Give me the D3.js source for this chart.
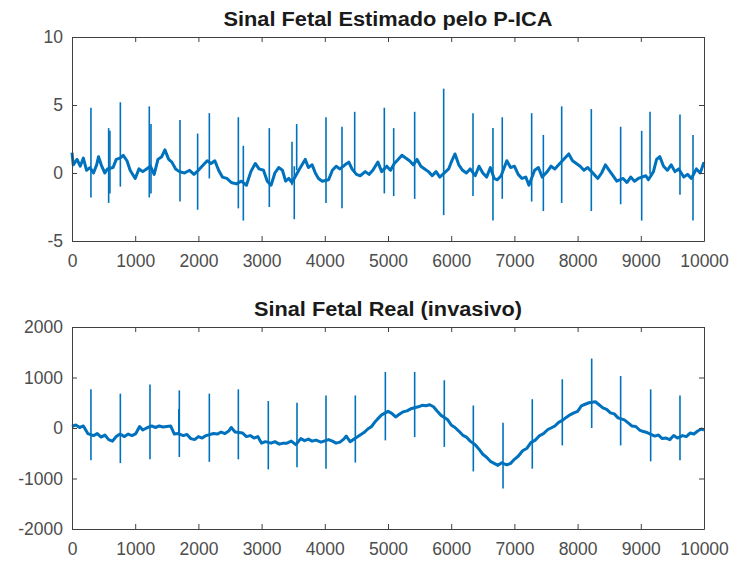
<!DOCTYPE html>
<html>
<head>
<meta charset="utf-8">
<script src="https://cdn.jsdelivr.net/npm/d3@7"></script>
<style>
  body { margin: 0; background: #fff; }
  svg { font-family: "Liberation Sans", Arial, sans-serif; }
</style>
</head>
<body>
<svg id="chart" width="733" height="562"></svg>
<script>
// top: estimated fetal signal (P-ICA) -- baseline
var topBaseX = [0, 20, 80, 130, 180, 230, 285, 340, 390, 420, 470, 520, 560, 650, 700, 760, 810, 870, 920, 1000,
  1060, 1120, 1180, 1240, 1300, 1360, 1420, 1470, 1530, 1580, 1640, 1700, 1780, 1860, 1930, 2000, 2080, 2140, 2200,
  2260, 2320, 2380, 2450, 2520, 2600, 2680, 2760, 2830, 2900, 2960, 3030, 3090, 3150, 3210, 3270, 3330,
  3380, 3430, 3480, 3600, 3690, 3740, 3800, 3850, 3900, 3960, 4060, 4120, 4180, 4240, 4320, 4380, 4430, 4500,
  4560, 4640, 4700, 4760, 4840, 4900, 4980, 5040, 5100, 5160, 5220, 5280, 5340, 5400, 5460, 5520, 5580, 5640,
  5700, 5760, 5820, 5960, 6010, 6060, 6120, 6180, 6240, 6300, 6380, 6440, 6500, 6560, 6620, 6680,
  6730, 6790, 6880, 6940, 7000, 7060, 7120, 7180, 7230, 7320, 7380, 7440, 7520, 7580, 7640, 7700, 7800, 7860,
  7920, 7980, 8040, 8100, 8160, 8260, 8320, 8380, 8440, 8500, 8560, 8620, 8720, 8780, 8840, 8900, 8960, 9080,
  9120, 9200, 9250, 9300, 9360, 9420, 9480, 9540, 9600, 9680, 9740, 9800, 9880, 9940, 10000];
var topBaseY = [1.5, 0.6, 1.0, 0.5, 1.1, 0.2, 0.4, 0.0, 0.6, 1.2, 0.5, 0.0, 0.3, 0.4, 1.0, 1.1, 1.3, 0.9, 0.2, -0.4,
  0.3, 0.1, 0.3, 0.5, -0.1, 1.0, 1.2, 1.7, 1.0, 0.8, 0.3, 0.1, 0.0, 0.2, -0.1, 0.2, 0.6, 0.9, 0.7,
  0.9, 0.2, -0.3, -0.4, -0.7, -0.8, -0.6, -0.9, 0.1, 0.7, 0.3, 0.2, -0.6, -0.9, 0.0, 0.4, 0.2,
  -0.6, -0.4, -0.7, 0.3, 1.0, 0.4, 0.6, 0.0, -0.4, -0.6, -0.5, 0.2, 0.5, 0.3, 0.6, 0.8, 0.3, -0.1,
  -0.2, 0.1, -0.1, 0.2, 0.8, 0.1, 0.5, 0.2, 0.7, 1.0, 1.3, 1.1, 0.9, 0.6, 1.0, 0.5, 0.3, 0.1,
  -0.2, 0.1, -0.3, 0.3, 0.9, 1.4, 0.6, 0.2, 0.0, 0.3, -0.2, 0.5, 0.0, -0.3, 0.4, -0.4,
  -0.5, -0.2, 0.9, 0.4, 0.5, -0.1, -0.4, -0.3, -0.9, 0.2, 0.4, -0.3, 0.1, 0.5, 0.3, 0.6, 1.1, 1.4,
  0.9, 0.7, 0.5, 0.2, 0.4, -0.1, -0.4, 0.0, 0.6, 0.2, -0.2, -0.6, -0.4, -0.7, -0.3, -0.6, -0.4, -0.2,
  -0.5, 0.1, 1.0, 1.2, 0.5, 0.2, 0.6, 0.1, 0.3, -0.3, -0.1, -0.4, 0.3, 0.0, 0.8];
var topSpikeX = [300, 580, 600, 765, 1223, 1250, 1709, 1988, 2173, 2632, 2711, 3122, 3481, 3517, 3555, 4019, 4272, 4473, 4942,
  5090, 5422, 5881, 6345, 6661, 6808, 7273, 7458, 7748, 8217, 8681, 9014, 9146, 9620, 9826];
var topSpikeHi = [4.8, 3.3, 3.1, 5.2, 4.9, 3.6, 3.9, 2.9, 4.4, 4.1, 2.0, 3.3, 2.3, 0.5, 3.6, 4.1, 3.4, 4.5, 4.8,
  3.3, 4.5, 6.2, 4.4, 3.3, 4.1, 4.4, 2.8, 4.9, 4.7, 3.4, 3.1, 4.5, 4.3, 2.8];
var topSpikeLo = [-1.8, -2.2, -1.5, -1.0, -1.8, -1.5, -2.1, -2.7, -0.4, -2.6, -3.5, -2.5, -0.9, -3.4, 0.2, -2.2, -2.6, 0, -1.5,
  -1.7, -1.9, -3.1, -1.7, -3.5, -1.9, -2.1, -2.8, -2.2, -2.8, -2.3, -3.5, -0.1, -1.6, -3.5];

// bottom: real fetal signal (invasive)
var botBaseX = [0, 60, 120, 180, 250, 340, 400, 460, 520, 580, 640, 700, 760, 830, 890, 950, 1010, 1070, 1120, 1180,
  1260, 1320, 1380, 1440, 1500, 1560, 1620, 1680, 1760, 1820, 1880, 1940, 2000, 2060, 2120, 2240, 2300, 2360,
  2420, 2480, 2520, 2580, 2700, 2760, 2820, 2880, 2940, 3000, 3060, 3150, 3210, 3280, 3340,
  3400, 3470, 3540, 3620, 3680, 3740, 3800, 3860, 3940, 4060, 4120, 4180, 4240, 4300, 4340, 4400, 4440, 4560,
  4620, 4680, 4740, 4800, 4860, 4900, 5000, 5060, 5120, 5180, 5240, 5300, 5360, 5480, 5540, 5600, 5660, 5720,
  5780, 5840, 5940, 6000, 6060, 6120, 6180, 6240, 6300, 6380, 6440, 6500, 6560, 6620, 6680,
  6740, 6800, 6880, 6940, 7000, 7060, 7130, 7200, 7260, 7330, 7400, 7460, 7530, 7580, 7640, 7700, 7760, 7820,
  7880, 7940, 8000, 8060, 8120, 8180, 8280, 8340, 8400, 8460, 8520, 8580, 8640, 8740, 8800, 8860, 8920, 8980,
  9040, 9100, 9220, 9280, 9340, 9400, 9460, 9520, 9580, 9660, 9720, 9780, 9840, 9900, 9960, 10000];
var botBaseY = [30, 60, 10, 40, -110, -150, -110, -180, -140, -230, -260, -170, -120, -170, -120, -150, -110, 30, -40, 0,
  40, 10, 40, 20, 30, 40, -120, -110, -150, -130, -210, -230, -170, -200, -150, -110, -120, -80,
  -110, -60, 10, -80, -100, -170, -150, -200, -170, -300, -270, -300, -270, -320, -300,
  -300, -260, -330, -210, -250, -220, -260, -240, -280, -230, -260, -300, -280, -220, -160, -270, -240, -140,
  -90, -20, 30, 130, 210, 260, 330, 290, 220, 270, 320, 340, 380, 420, 450, 440, 460, 420,
  330, 250, 170, 60, 10, -60, -140, -180, -260, -330, -420, -520, -580, -660, -700,
  -740, -690, -730, -700, -620, -560, -450, -400, -290, -240, -150, -110, -30, 0, 40, 110, 150, 210,
  260, 300, 330, 440, 470, 500, 520, 460, 400, 370, 300, 280, 200, 160, 100, 40, 30, -40,
  -70, -90, -160, -140, -210, -200, -230, -150, -200, -150, -170, -100, -120, -60, -20, -40];
var botSpikeX = [300, 765, 1234, 1690, 1698, 2173, 2632, 3106, 3560, 4019, 4483, 4958, 5422, 5891, 6350,
  6820, 7283, 7758, 8223, 8681, 9156, 9620];
var botSpikeHi = [765, 680, 860, 375, 745, 680, 765, 535, 500, 645, 645, 1110, 1110, 945, 445,
  105, 570, 965, 1375, 1030, 765, 645];
var botSpikeLo = [-640, -695, -620, -100, -575, -670, -620, -820, -775, -805, -685, -245, -180, -375, -860,
  -1200, -805, -345, 0, -345, -660, -640];

var xTicks = d3.range(0, 10001, 1000);
var blue = "#0072bd", axisColor = "#404040";

var svg = d3.select("#chart");
var left = 72, right = 704;
var x = d3.scaleLinear().domain([0, 10000]).range([left, right]);

function panel(opts) {
  var y = d3.scaleLinear().domain(opts.yDomain).range([opts.bottom, opts.top]);
  var g = svg.append("g");

  // baseline (noisy band)
  var base = d3.zip(opts.baseX, opts.baseY);
  g.append("path")
    .datum(base)
    .attr("fill", "none")
    .attr("stroke", blue)
    .attr("stroke-width", 3)
    .attr("stroke-linejoin", "round")
    .attr("d", d3.line().x(function(d) { return x(d[0]); }).y(function(d) { return y(d[1]); }));

  // QRS spikes
  g.selectAll("line.spike")
    .data(d3.zip(opts.spikeX, opts.spikeHi, opts.spikeLo))
    .enter().append("line")
      .attr("class", "spike")
      .attr("x1", function(d) { return x(d[0]); })
      .attr("x2", function(d) { return x(d[0]); })
      .attr("y1", function(d) { return y(d[1]); })
      .attr("y2", function(d) { return y(d[2]); })
      .attr("stroke", blue)
      .attr("stroke-width", 1.6);

  // axes (MATLAB box with inward ticks)
  var fmt = function(d) { return String(d); };
  var ax = g.append("g").attr("color", axisColor);
  ax.append("g").attr("transform", "translate(0," + opts.bottom + ")")
    .call(d3.axisBottom(x).tickValues(xTicks).tickSizeInner(-5).tickSizeOuter(0).tickPadding(14).tickFormat(fmt));
  ax.append("g").attr("transform", "translate(0," + opts.top + ")")
    .call(d3.axisTop(x).tickValues(xTicks).tickSizeInner(-5).tickSizeOuter(0).tickFormat(""));
  ax.append("g").attr("transform", "translate(" + left + ",0)")
    .call(d3.axisLeft(y).tickValues(opts.yTicks).tickSizeInner(-5).tickSizeOuter(0).tickPadding(9).tickFormat(fmt));
  ax.append("g").attr("transform", "translate(" + right + ",0)")
    .call(d3.axisRight(y).tickValues(opts.yTicks).tickSizeInner(-5).tickSizeOuter(0).tickFormat(""));
  ax.selectAll("text").attr("font-size", 17.5).attr("fill", "#4d4d4d")
    .attr("font-family", "'Liberation Sans', Arial, sans-serif");
  ax.selectAll(".domain").attr("stroke", axisColor);
  ax.selectAll(".tick line").attr("stroke", axisColor);

  g.append("text")
    .attr("x", (left + right) / 2)
    .attr("y", opts.top - 11)
    .attr("text-anchor", "middle")
    .attr("font-size", 20)
    .attr("font-weight", "bold")
    .attr("fill", "#1a1a1a")
    .attr("textLength", opts.titleWidth)
    .attr("lengthAdjust", "spacingAndGlyphs")
    .text(opts.title);
}

panel({
  title: "Sinal Fetal Estimado pelo P-ICA", titleWidth: 329,
  top: 37, bottom: 241,
  yDomain: [-5, 10], yTicks: [-5, 0, 5, 10],
  baseX: topBaseX, baseY: topBaseY,
  spikeX: topSpikeX, spikeHi: topSpikeHi, spikeLo: topSpikeLo
});

panel({
  title: "Sinal Fetal Real (invasivo)", titleWidth: 268,
  top: 327, bottom: 529,
  yDomain: [-2000, 2000], yTicks: [-2000, -1000, 0, 1000, 2000],
  baseX: botBaseX, baseY: botBaseY,
  spikeX: botSpikeX, spikeHi: botSpikeHi, spikeLo: botSpikeLo
});
</script>
</body>
</html>
